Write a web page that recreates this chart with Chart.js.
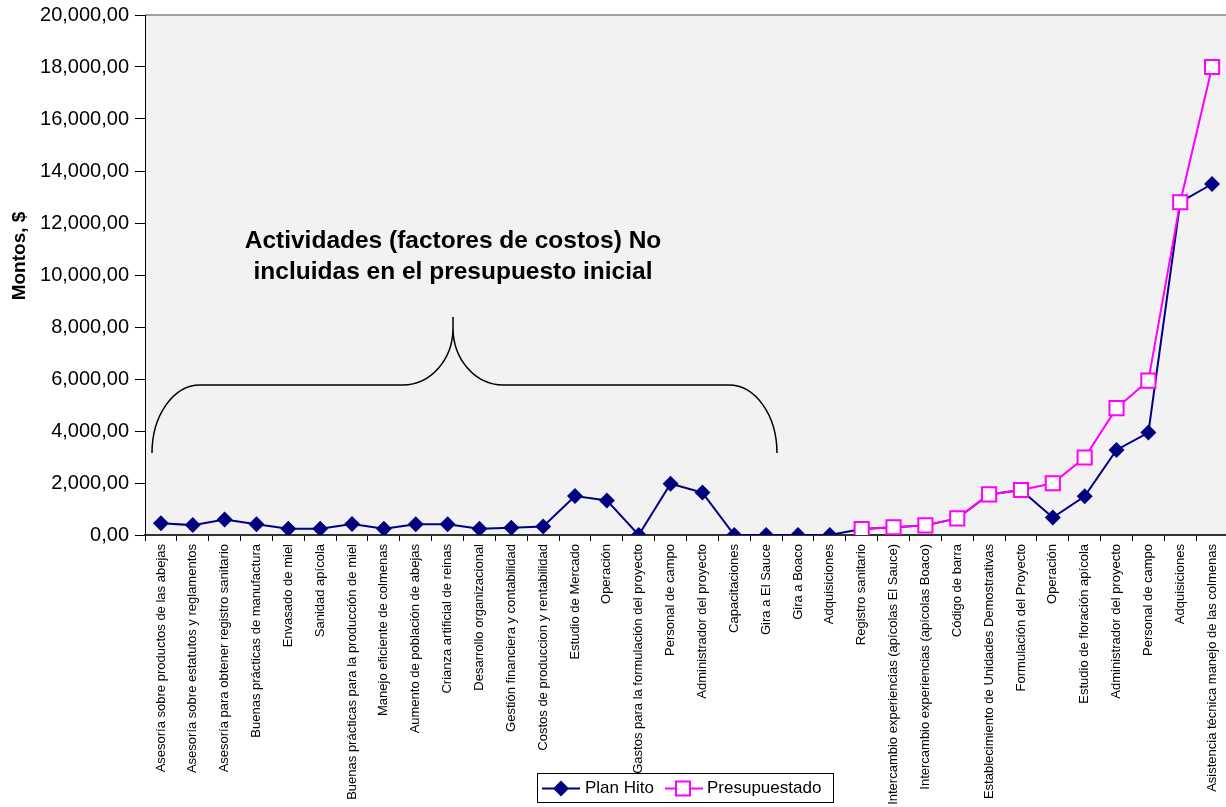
<!DOCTYPE html>
<html>
<head>
<meta charset="utf-8">
<script src="https://cdn.jsdelivr.net/npm/chart.js@4/dist/chart.umd.min.js"></script>
<style>
  html, body { margin: 0; padding: 0; background: #fff; overflow: hidden; }
  #wrap { width: 1226px; height: 807px; position: relative; }
</style>
</head>
<body>
<div id="wrap"><canvas id="myChart"></canvas></div>
<script>
// actividades (factores de costo)
const categorias = [
  'Asesoría sobre productos de las abejas',
  'Asesoría sobre estatutos y reglamentos',
  'Asesoría para obtener registro sanitario',
  'Buenas prácticas de manufactura',
  'Envasado de miel',
  'Sanidad apícola',
  'Buenas prácticas para la producción de miel',
  'Manejo eficiente de colmenas',
  'Aumento de población de abejas',
  'Crianza artificial de reinas',
  'Desarrollo organizacional',
  'Gestión financiera y contabilidad',
  'Costos de produccion y rentabilidad',
  'Estudio de Mercado',
  'Operación',
  'Gastos para la formulación del proyecto',
  'Personal de campo',
  'Administrador del proyecto',
  'Capacitaciones',
  'Gira a El Sauce',
  'Gira a Boaco',
  'Adquisiciones',
  'Registro sanitario',
  'Intercambio experiencias (apícolas El Sauce)',
  'Intercambio experiencias (apícolas Boaco)',
  'Código de barra',
  'Establecimiento de Unidades Demostrativas',
  'Formulación del Proyecto',
  'Operación',
  'Estudio de floración apícola',
  'Administrador del proyecto',
  'Personal de campo',
  'Adquisiciones',
  'Asistencia técnica manejo de las colmenas'
];

// montos en $
const planHito = [450, 380, 600, 410, 240, 240, 420, 240, 410, 410, 240, 280, 330,
  1500, 1330, 0, 1970, 1630, 0, 0, 0, 0,
  230, 300, 370, 640, 1560, 1730, 670, 1490, 3270, 3940, 12800, 13500];
const presupuestado = [null, null, null, null, null, null, null, null, null, null, null,
  null, null, null, null, null, null, null, null, null, null, null,
  230, 300, 370, 640, 1560, 1730, 1990, 2980, 4880, 5940, 12800, 18000];

const ejeY = { min: 0, max: 20000, paso: 2000 };
const tituloY = 'Montos, $';
const nota = ['Actividades (factores de costos) No', 'incluidas en el presupuesto inicial'];

const AZUL = '#000080';
const MAGENTA = '#FF00FF';
const BORDE_DERECHO = 1228; // el área de trazado sigue un poco más allá del borde
const FUENTE = '"Liberation Sans", Arial, sans-serif';

// formato 20,000,00
function formatoMonto(v) {
  return Number(v).toLocaleString('en-US') + ',00';
}

// fondo gris del área de trazado + borde superior + título del eje Y
const fondo = {
  id: 'fondo',
  beforeDraw(chart) {
    const { ctx, chartArea: a } = chart;
    ctx.save();
    ctx.fillStyle = '#f2f2f2';
    ctx.fillRect(a.left, a.top, a.right - a.left, a.bottom - a.top);
    ctx.strokeStyle = '#a0a0a0';
    ctx.lineWidth = 2;
    ctx.beginPath();
    ctx.moveTo(a.left, a.top);
    ctx.lineTo(a.right, a.top);
    ctx.stroke();

    ctx.translate(20, 256);
    ctx.rotate(-Math.PI / 2);
    ctx.fillStyle = '#000';
    ctx.font = 'bold 19px ' + FUENTE;
    ctx.textAlign = 'center';
    ctx.textBaseline = 'middle';
    ctx.fillText(tituloY, 0, 0);
    ctx.restore();
  }
};

// llave y texto sobre las actividades sin presupuesto
const K = 0.5523;
const llave = {
  id: 'llave',
  afterDatasetsDraw(chart) {
    const { ctx } = chart;
    const xs = chart.scales.x, ys = chart.scales.y;
    const x0 = xs.getPixelForValue(-0.28);
    const x1 = xs.getPixelForValue(19.34);
    const xm = xs.getPixelForValue(9.17);
    const yEnd = ys.getPixelForValue(3150);
    const yMid = ys.getPixelForValue(5770);
    const yTip = ys.getPixelForValue(8380);
    const yTip2 = ys.getPixelForValue(7960);
    const rx1 = 48, rx2 = 50;
    const ry1 = yEnd - yMid, ry2 = yMid - yTip2;
    ctx.save();
    ctx.strokeStyle = '#000';
    ctx.lineWidth = 1.5;
    ctx.beginPath();
    // extremo izquierdo
    let cx = x0 + rx1, cy = yEnd;
    ctx.moveTo(x0, yEnd);
    ctx.bezierCurveTo(cx - rx1, cy - K * ry1, cx - K * rx1, cy - ry1, cx, cy - ry1);
    ctx.lineTo(xm - rx2, yMid);
    // subida al pico
    cx = xm - rx2; cy = yTip2;
    ctx.bezierCurveTo(cx + K * rx2, cy + ry2, cx + rx2, cy + K * ry2, cx + rx2, cy);
    ctx.lineTo(xm, yTip);
    // bajada del pico
    ctx.moveTo(xm, yTip2);
    cx = xm + rx2;
    ctx.bezierCurveTo(cx - rx2, cy + K * ry2, cx - K * rx2, cy + ry2, cx, cy + ry2);
    ctx.lineTo(x1 - rx1, yMid);
    // extremo derecho
    cx = x1 - rx1; cy = yEnd;
    ctx.bezierCurveTo(cx + K * rx1, cy - ry1, cx + rx1, cy - K * ry1, cx + rx1, cy);
    ctx.stroke();

    ctx.fillStyle = '#000';
    ctx.font = 'bold 24.5px ' + FUENTE;
    ctx.textAlign = 'center';
    ctx.textBaseline = 'alphabetic';
    ctx.fillText(nota[0], xm, 248);
    ctx.fillText(nota[1], xm, 279);
    ctx.restore();
  }
};

// leyenda con recuadro, encima de las etiquetas del eje
const leyenda = {
  id: 'leyenda',
  afterDraw(chart) {
    const { ctx } = chart;
    const bx = 537, by = 773, bw = 296, bh = 29;
    const cy = by + bh / 2 + 1;
    ctx.save();
    ctx.fillStyle = '#fff';
    ctx.fillRect(bx, by, bw, bh);
    ctx.strokeStyle = '#000';
    ctx.lineWidth = 1;
    ctx.strokeRect(bx + 0.5, by + 0.5, bw, bh);

    ctx.lineWidth = 2;
    ctx.strokeStyle = AZUL;
    ctx.beginPath(); ctx.moveTo(542, cy); ctx.lineTo(580, cy); ctx.stroke();
    ctx.fillStyle = AZUL;
    ctx.beginPath();
    ctx.moveTo(561 - 8, cy); ctx.lineTo(561, cy - 8); ctx.lineTo(561 + 8, cy); ctx.lineTo(561, cy + 8);
    ctx.closePath(); ctx.fill();

    ctx.strokeStyle = MAGENTA;
    ctx.beginPath(); ctx.moveTo(665, cy); ctx.lineTo(703, cy); ctx.stroke();
    ctx.fillStyle = '#fff';
    ctx.fillRect(676, cy - 7, 14, 14);
    ctx.strokeRect(676, cy - 7, 14, 14);

    ctx.fillStyle = '#000';
    ctx.font = '17px ' + FUENTE;
    ctx.textBaseline = 'middle';
    ctx.fillText('Plan Hito', 585, cy);
    ctx.fillText('Presupuestado', 707, cy);
    ctx.restore();
  }
};

const ctx = document.getElementById('myChart').getContext('2d');
const myChart = new Chart(ctx, {
  type: 'line',
  data: {
    labels: categorias,
    datasets: [
      {
        label: 'Plan Hito',
        data: planHito,
        borderColor: AZUL,
        backgroundColor: AZUL,
        borderWidth: 2,
        pointStyle: 'rectRot',
        pointRadius: 8,
        pointBorderWidth: 0,
        pointBackgroundColor: AZUL,
        tension: 0,
        order: 2
      },
      {
        label: 'Presupuestado',
        data: presupuestado,
        borderColor: MAGENTA,
        backgroundColor: '#fff',
        borderWidth: 2,
        pointStyle: 'rect',
        pointRadius: 10,
        pointBorderWidth: 2,
        pointBorderColor: MAGENTA,
        pointBackgroundColor: '#fff',
        tension: 0,
        spanGaps: false,
        order: 1
      }
    ]
  },
  options: {
    responsive: true,
    maintainAspectRatio: false,
    animation: false,
    layout: { padding: { top: 15, right: 0, left: 0, bottom: 0 } },
    plugins: {
      legend: { display: false },
      tooltip: { enabled: false }
    },
    scales: {
      x: {
        offset: true,
        grid: {
          offset: true,
          drawOnChartArea: false,
          drawTicks: true,
          tickLength: 6,
          color: '#000'
        },
        border: { color: '#333', width: 2 },
        ticks: {
          autoSkip: false,
          minRotation: 90,
          maxRotation: 90,
          padding: 3,
          color: '#000',
          font: { family: FUENTE, size: 13 }
        },
        afterFit(scale) {
          scale.height = 272;
          scale.paddingLeft = 0;
          scale.paddingRight = 0;
        }
      },
      y: {
        min: ejeY.min,
        max: ejeY.max,
        grid: {
          drawOnChartArea: false,
          drawTicks: true,
          tickLength: 10,
          color: '#000'
        },
        border: { color: '#000', width: 1 },
        ticks: {
          stepSize: ejeY.paso,
          padding: 6,
          color: '#000',
          font: { family: FUENTE, size: 20 },
          callback: (v) => formatoMonto(v)
        },
        afterFit(scale) {
          scale.width = 145;
          scale.paddingTop = 0;
        }
      }
    }
  },
  plugins: [fondo, llave, leyenda]
});

// ensanchar el contenedor para que el área de trazado llegue al borde derecho
const wrap = document.getElementById('wrap');
const extra = BORDE_DERECHO - myChart.chartArea.right;
if (extra > 0) {
  wrap.style.width = (1226 + extra) + 'px';
  myChart.resize();
}
</script>
</body>
</html>
